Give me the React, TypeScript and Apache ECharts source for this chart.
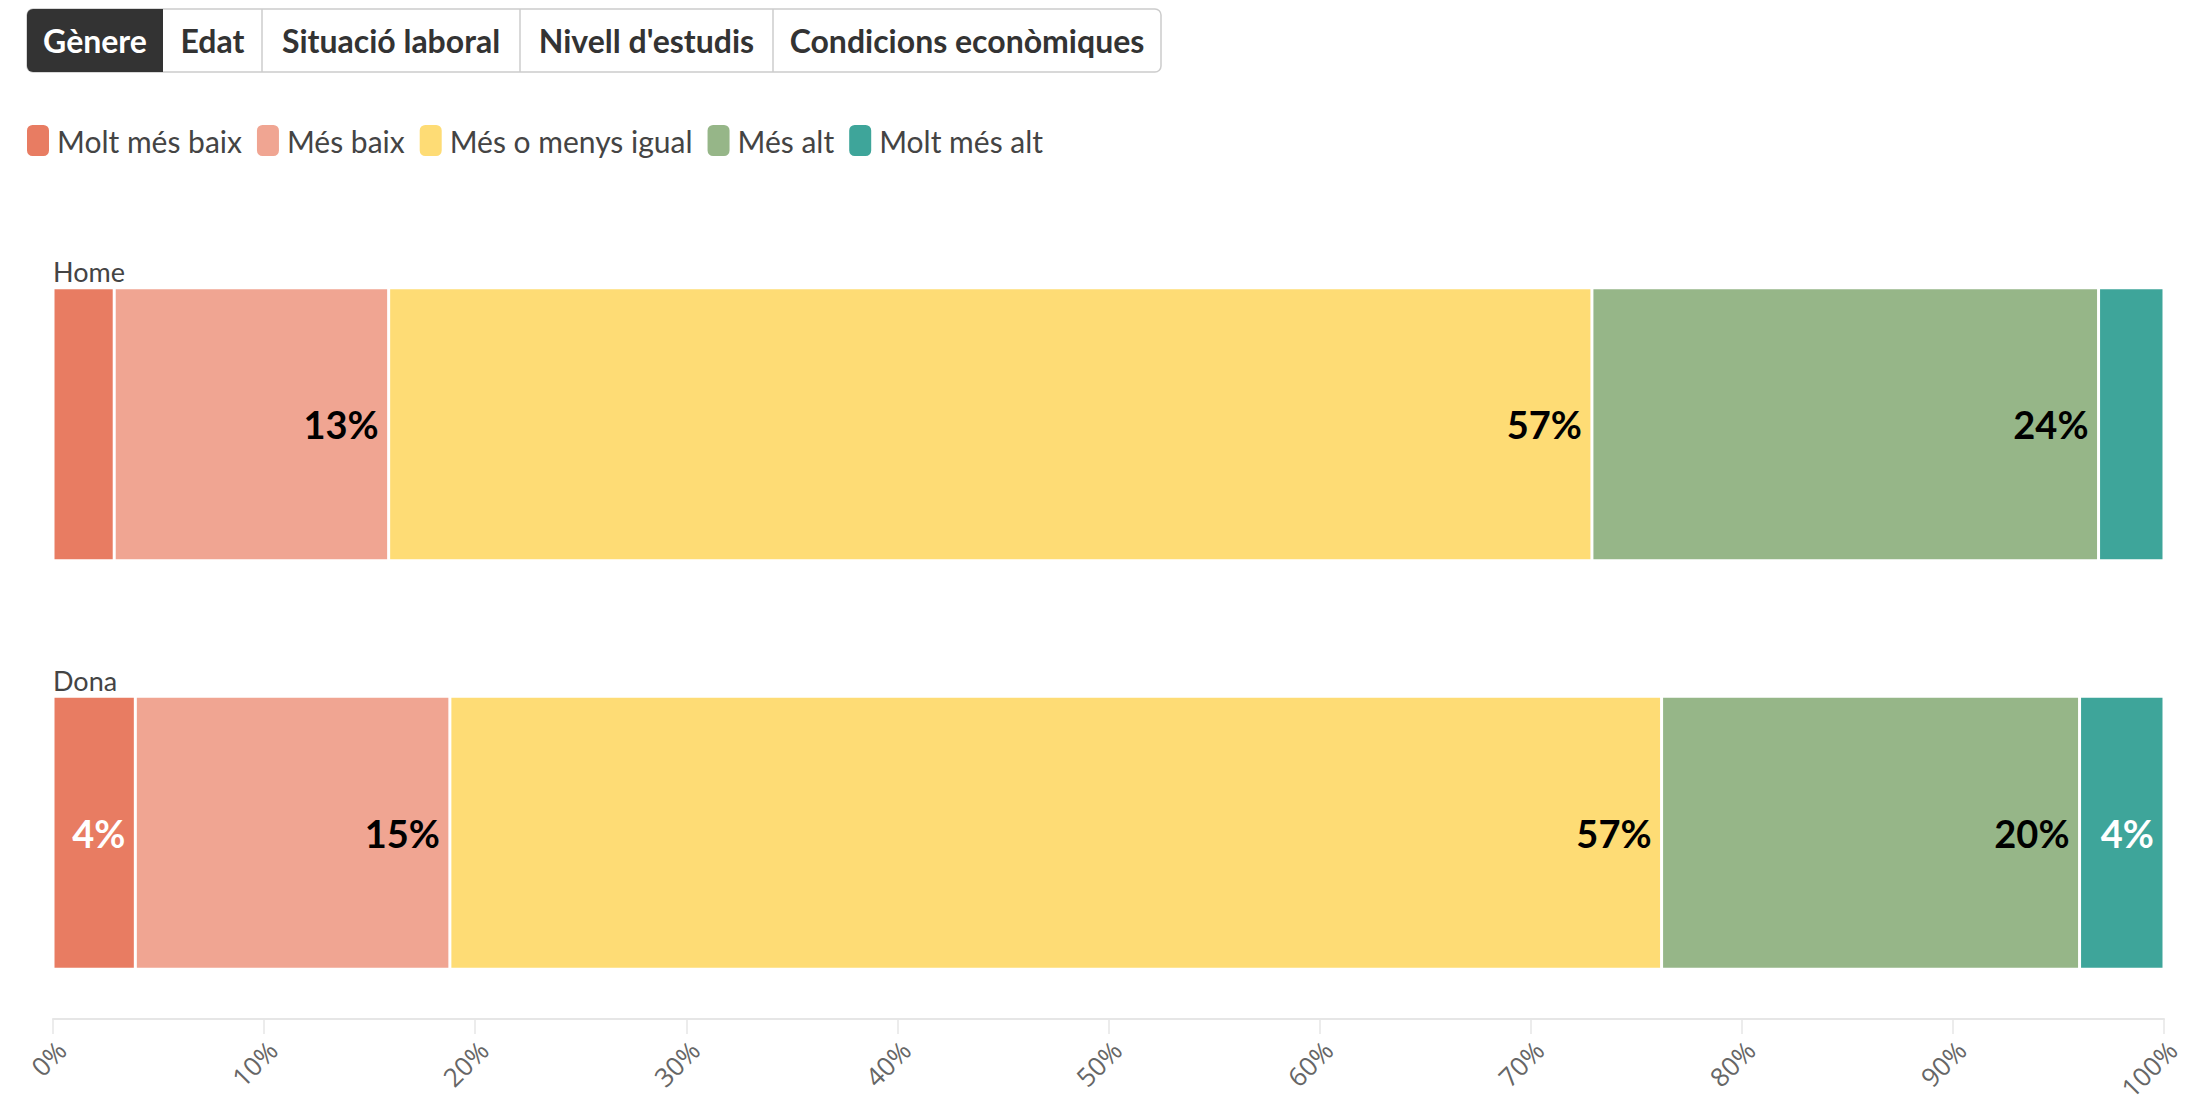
import React, { useEffect, useRef } from "react";
import * as echarts from "echarts";

const categories = ["Home", "Dona"];
const seriesNames = ["Molt més baix", "Més baix", "Més o menys igual", "Més alt", "Molt més alt"];
const moltMesBaix = [2.9, 3.9];
const mesBaix = [13.0, 14.9];
const mesOMenysIgual = [57.0, 57.4];
const mesAlt = [24.0, 19.8];
const moltMesAlt = [3.1, 4.0];
const seriesValues = [moltMesBaix, mesBaix, mesOMenysIgual, mesAlt, moltMesAlt];
const colors = ["#E87C62", "#F0A592", "#FEDC75", "#96B688", "#3EA59A"];
const labelColors = ["#ffffff", "#000000", "#000000", "#000000", "#ffffff"];
const tabs = ["Gènere", "Edat", "Situació laboral", "Nivell d'estudis", "Condicions econòmiques"];
const tabEdges = [27, 163, 262, 520, 773, 1161];

const FONT = "Lato, 'Source Sans Pro', sans-serif";

export default function App() {
  const ref = useRef<HTMLDivElement>(null);
  useEffect(() => {
    if (!ref.current) return;
    const chart = echarts.init(ref.current, null, { renderer: "svg" });

    const tabGraphics: any[] = [];
    const top = 9;
    const h = 63;
    tabGraphics.push({
      type: "rect",
      shape: { x: tabEdges[0], y: top, width: tabEdges[5] - tabEdges[0], height: h, r: 6 },
      style: { fill: "#fff", stroke: "#cccccc", lineWidth: 1.5 },
    });
    tabGraphics.push({
      type: "rect",
      shape: { x: tabEdges[0], y: top, width: tabEdges[1] - tabEdges[0], height: h, r: [6, 0, 0, 6] },
      style: { fill: "#333333" },
    });
    for (let i = 2; i < 5; i++) {
      tabGraphics.push({
        type: "line",
        shape: { x1: tabEdges[i], y1: top, x2: tabEdges[i], y2: top + h },
        style: { stroke: "#cccccc", lineWidth: 1.5 },
      });
    }
    tabs.forEach((t, i) => {
      tabGraphics.push({
        type: "text",
        x: (tabEdges[i] + tabEdges[i + 1]) / 2,
        y: top + h / 2,
        style: {
          text: t,
          fill: i === 0 ? "#ffffff" : "#333333",
          font: `bold 32px ${FONT}`,
          align: "center",
          verticalAlign: "middle",
        },
      });
    });

    const option: any = {
      animation: false,
      color: colors,
      textStyle: { fontFamily: FONT },
      graphic: tabGraphics,
      legend: {
        left: 27,
        top: 125,
        padding: 0,
        icon: "roundRect",
        itemWidth: 22,
        itemHeight: 31,
        itemGap: 15,
        symbolKeepAspect: false,
        itemStyle: { borderWidth: 0 },
        textStyle: { fontSize: 30, color: "#444", fontFamily: FONT, padding: [0, 0, 0, 3] },
        data: seriesNames,
      },
      grid: {
        left: 53,
        right: 45,
        top: 220,
        bottom: 71,
        containLabel: false,
        outerBoundsMode: "none",
      },
      xAxis: {
        type: "value",
        min: 0,
        max: 100,
        interval: 10,
        offset: -18,
        axisLine: { show: true, lineStyle: { color: "#e6e6e6", width: 2 } },
        axisTick: { show: true, length: 15, lineStyle: { color: "#e6e6e6", width: 1.5 } },
        splitLine: { show: false },
        axisLabel: {
          formatter: "{value}%",
          rotate: 45,
          align: "right",
          verticalAlign: "top",
          fontSize: 26,
          lineHeight: 24,
          color: "#666",
          margin: 18,
          fontFamily: "'Open Sans', sans-serif",
        },
      },
      yAxis: {
        type: "category",
        inverse: true,
        data: categories,
        axisLine: { show: false },
        axisTick: { show: false },
        axisLabel: {
          inside: true,
          margin: 0,
          align: "left",
          verticalAlign: "bottom",
          padding: [0, 0, 139, 0],
          fontSize: 27,
          color: "#444",
          fontFamily: FONT,
        },
      },
      series: seriesNames.map((name, i) => ({
        name,
        type: "bar",
        stack: "total",
        barWidth: 273,
        data: seriesValues[i],
        itemStyle: { color: colors[i], borderColor: "#ffffff", borderWidth: 1.5 },
        label: {
          show: true,
          position: "insideRight",
          distance: 10,
          formatter: (p: any) => (p.value < 3.5 ? "" : Math.round(p.value) + "%"),
          fontSize: 38,
          fontWeight: "bold",
          fontFamily: FONT,
          color: labelColors[i],
          textBorderColor: colors[i],
          textBorderWidth: 4,
        },
        emphasis: { disabled: true },
      })),
    };
    chart.setOption(option);
    return () => chart.dispose();
  }, []);
  return (
    <div
      ref={ref}
      style={{ position: "fixed", left: 0, top: 0, width: 2209, height: 1108, background: "#fff" }}
    />
  );
}
